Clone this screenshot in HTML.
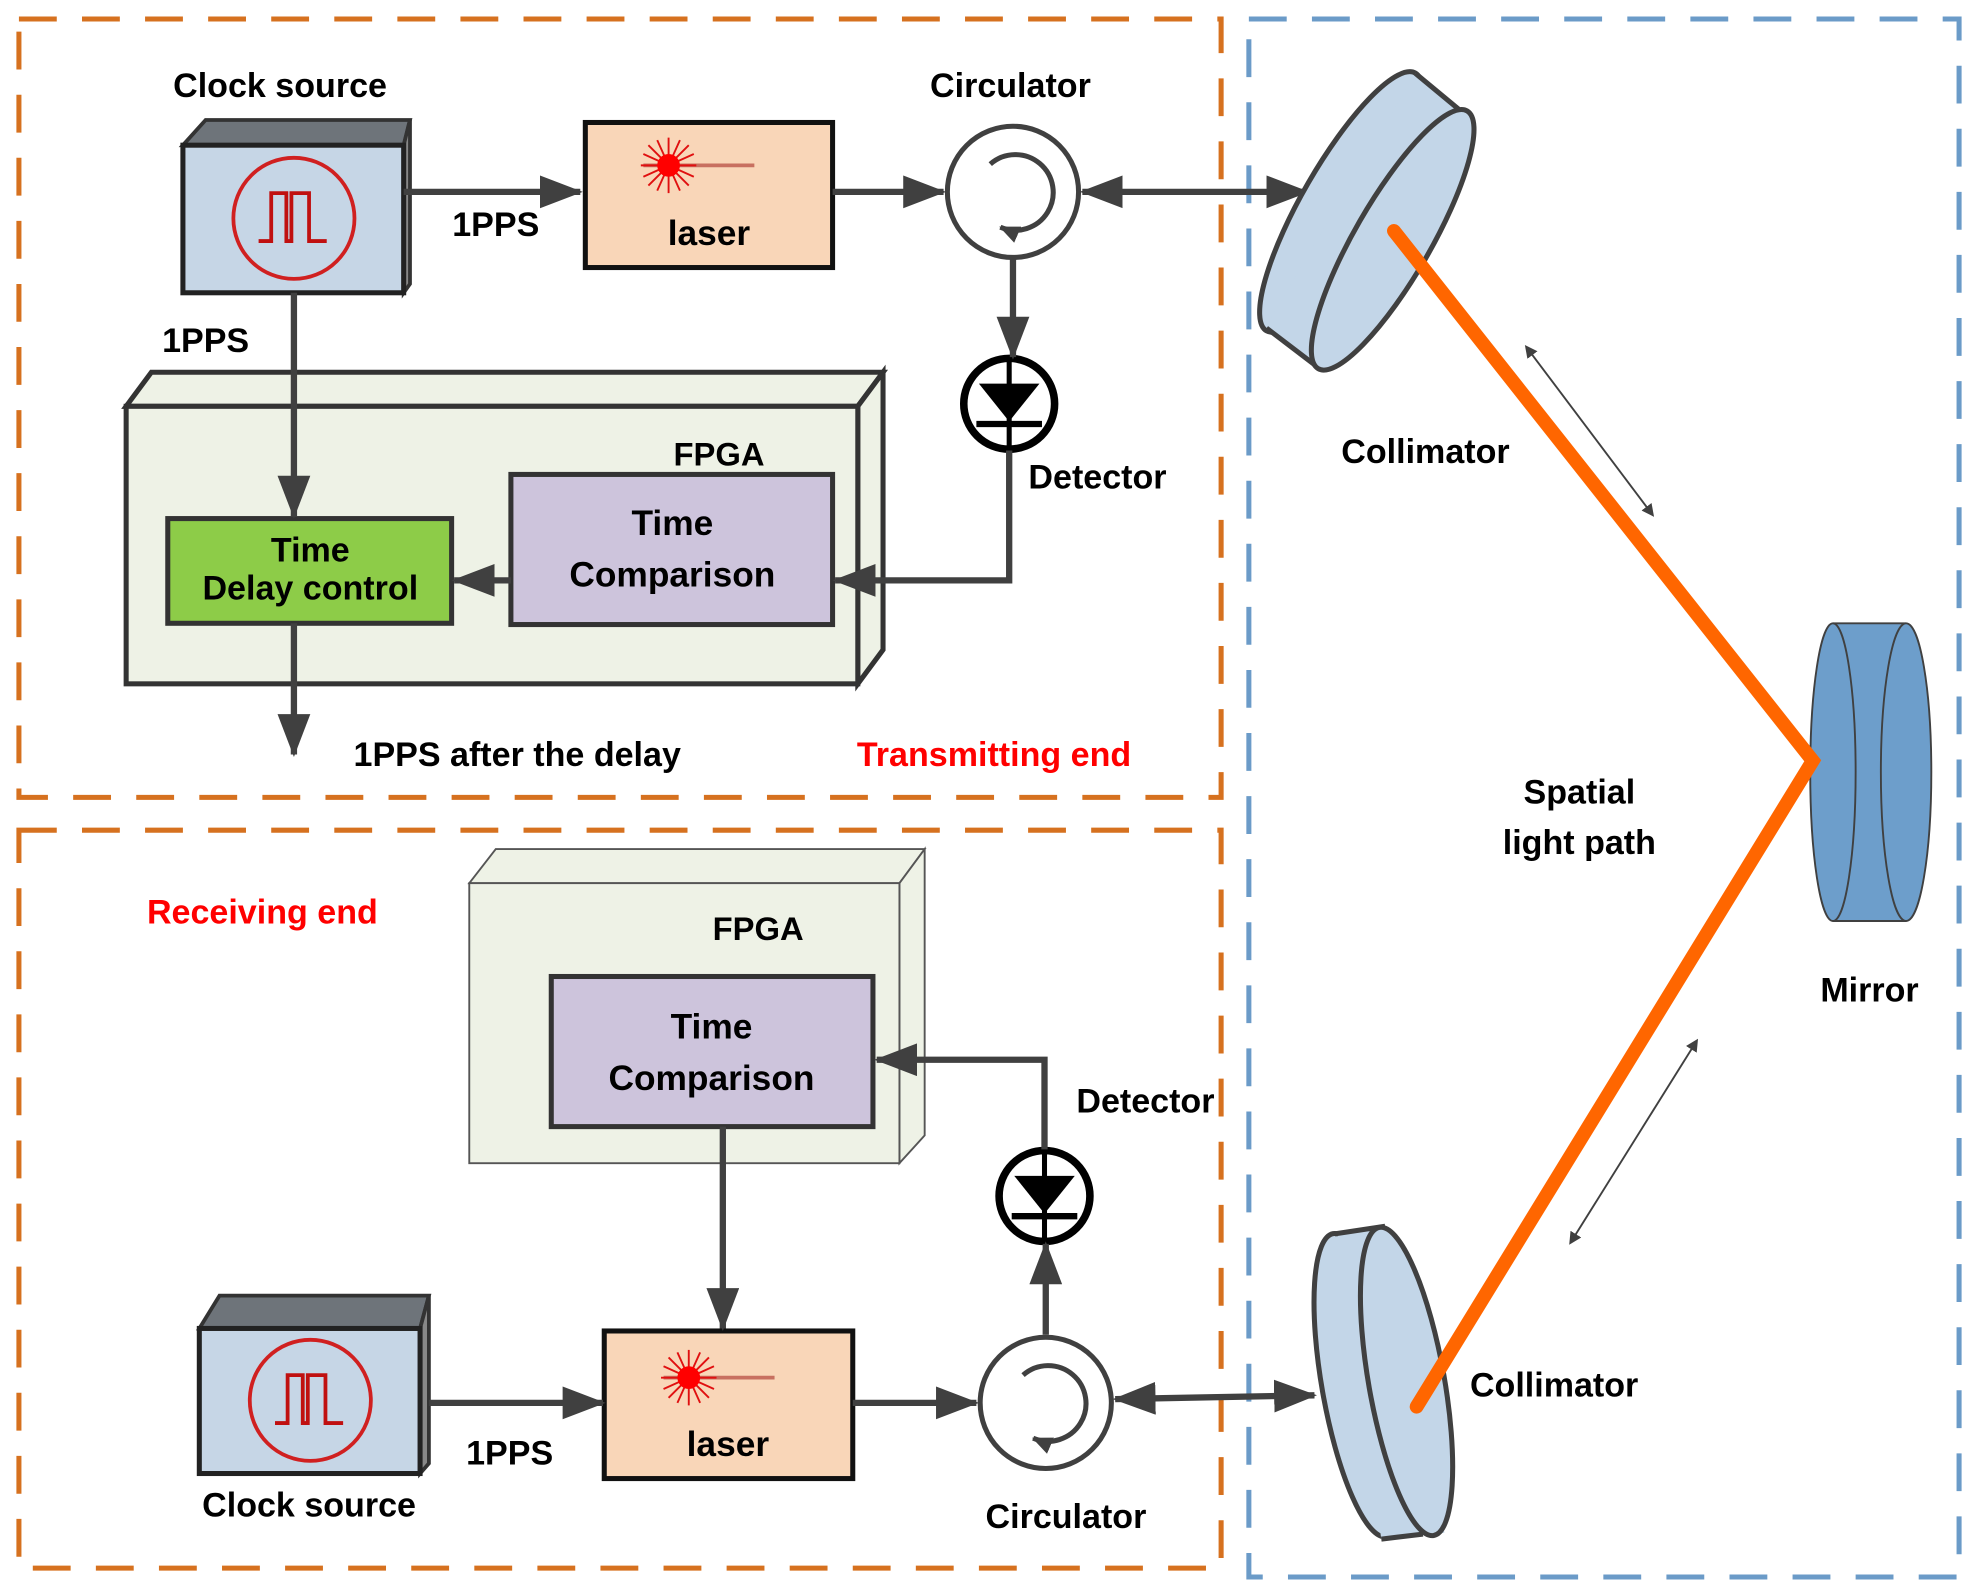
<!DOCTYPE html>
<html><head><meta charset="utf-8"><style>
html,body{margin:0;padding:0;background:#fff}
svg{display:block}
text{font-family:"Liberation Sans",sans-serif;font-weight:bold;fill:#000;text-anchor:middle}
</style></head><body>
<svg width="1978" height="1596" viewBox="0 0 1568 1265" xmlns="http://www.w3.org/2000/svg">
<defs>
<marker id="ah" markerWidth="10" markerHeight="10" refX="8" refY="5" orient="auto-start-reverse" markerUnits="userSpaceOnUse" viewBox="0 0 10 10">
<path d="M0,0 L10,5 L0,10 z" fill="#404040"/></marker>
<marker id="big" markerWidth="34" markerHeight="26" refX="32" refY="13" orient="auto-start-reverse" markerUnits="userSpaceOnUse" viewBox="0 0 34 26">
<path d="M0,0 L34,13 L0,26 z" fill="#404040"/></marker>
<marker id="sm" markerWidth="16" markerHeight="14" refX="15" refY="7" orient="auto-start-reverse" markerUnits="userSpaceOnUse" viewBox="0 0 16 14">
<path d="M0,0 L16,7 L0,14 z" fill="#404040"/></marker>
<g id="clock">
<circle r="48" fill="none" stroke="#d02020" stroke-width="3"/>
<path d="M-28,18 H-18 V-20 H-6 V18 H-2 V-20 H12 V18 H26" fill="none" stroke="#c01010" stroke-width="3"/>
</g>
<g id="star">
<line x1="-20" y1="0" x2="68" y2="0" stroke="#c87060" stroke-width="3"/>
<g stroke="#e01010" stroke-width="1.5">
<line x1="-22" y1="0" x2="22" y2="0"/><line x1="0" y1="-22" x2="0" y2="22"/>
<line x1="-16" y1="-16" x2="16" y2="16"/><line x1="-16" y1="16" x2="16" y2="-16"/>
<line x1="-20" y1="-9" x2="20" y2="9"/><line x1="-20" y1="9" x2="20" y2="-9"/>
<line x1="-9" y1="-20" x2="9" y2="20"/><line x1="9" y1="-20" x2="-9" y2="20"/>
</g>
<circle r="9" fill="#ff0000"/>
</g>
<g id="circ">
<circle r="52" fill="#fff" stroke="#404040" stroke-width="4"/>
<path d="M-18,-22 A30,30 0 1 1 -10,28" fill="none" stroke="#404040" stroke-width="4" marker-end="url(#sm)"/>
</g>
<g id="det">
<circle r="36" fill="#fff" stroke="#000" stroke-width="6"/>
<path d="M-24,-16 H24 L0,14 z" fill="#000"/>
<line x1="-26" y1="16" x2="26" y2="16" stroke="#000" stroke-width="5"/>
<line x1="0" y1="-36" x2="0" y2="36" stroke="#000" stroke-width="4"/>
</g>
</defs>

<rect x="15" y="15" width="953" height="617" fill="none" stroke="#d6711f" stroke-width="4" stroke-dasharray="30,20"/>
<rect x="15" y="658" width="953" height="585" fill="none" stroke="#d6711f" stroke-width="4" stroke-dasharray="30,20"/>
<rect x="990" y="15" width="563" height="1235" fill="none" stroke="#6b9bc8" stroke-width="4" stroke-dasharray="30,20"/>

<path d="M100,322 L120,295 L700,295 L680,322 z" fill="#eef2e6" stroke="#333" stroke-width="4"/>
<path d="M680,322 L700,295 L700,515 L680,542 z" fill="#eef2e6" stroke="#333" stroke-width="4"/>
<rect x="100" y="322" width="580" height="220" fill="#eef2e6" stroke="#333" stroke-width="4"/>
<text x="570" y="369" font-size="26">FPGA</text>
<rect x="405" y="376" width="255" height="119" fill="#cdc4dc" stroke="#333" stroke-width="4"/>
<text x="533" y="424" font-size="28">Time</text>
<text x="533" y="465" font-size="28">Comparison</text>
<rect x="133" y="411" width="225" height="83" fill="#8dcc48" stroke="#333" stroke-width="4"/>
<text x="246" y="445" font-size="27">Time</text>
<text x="246" y="475" font-size="27">Delay control</text>

<path d="M145,115 L163,95 L325,95 L320,115 z" fill="#6e747a" stroke="#333" stroke-width="3"/>
<path d="M320,115 L325,95 L325,225 L320,232 z" fill="#888" stroke="#333" stroke-width="3"/>
<rect x="145" y="115" width="175" height="117" fill="#c6d6e6" stroke="#222" stroke-width="4"/>
<use href="#clock" x="233" y="173"/>
<text x="222" y="77" font-size="27">Clock source</text>

<rect x="464" y="97" width="196" height="115" fill="#f9d6b8" stroke="#111" stroke-width="4"/>
<use href="#star" x="530" y="131"/>
<text x="562" y="194" font-size="28">laser</text>

<use href="#circ" x="803" y="152"/>
<text x="801" y="77" font-size="27">Circulator</text>
<use href="#det" x="800" y="320"/>
<text x="870" y="387" font-size="27">Detector</text>

<g stroke="#404040" stroke-width="5" fill="none">
<line x1="320" y1="152" x2="460" y2="152" marker-end="url(#big)"/>
<line x1="660" y1="152" x2="748" y2="152" marker-end="url(#big)"/>
<line x1="858" y1="152" x2="1036" y2="152" marker-start="url(#big)" marker-end="url(#big)"/>
<line x1="803" y1="205" x2="803" y2="283" marker-end="url(#big)"/>
<polyline points="800,357 800,460 662,460" marker-end="url(#big)"/>
<line x1="405" y1="460" x2="360" y2="460" marker-end="url(#big)"/>
<line x1="233" y1="232" x2="233" y2="409" marker-end="url(#big)"/>
<line x1="233" y1="494" x2="233" y2="598" marker-end="url(#big)"/>
</g>
<text x="393" y="187" font-size="27">1PPS</text>
<text x="163" y="279" font-size="27">1PPS</text>
<text x="410" y="607" font-size="27">1PPS after the delay</text>
<text x="788" y="607" font-size="27" style="fill:#ff0000">Transmitting end</text>

<path d="M372,700 L393,673 L733,673 L713,700 z" fill="#eef2e6" stroke="#555" stroke-width="1.5"/>
<path d="M713,700 L733,673 L733,900 L713,922 z" fill="#eef2e6" stroke="#555" stroke-width="1.5"/>
<rect x="372" y="700" width="341" height="222" fill="#eef2e6" stroke="#555" stroke-width="1.5"/>
<text x="601" y="745" font-size="26">FPGA</text>
<rect x="437" y="774" width="255" height="119" fill="#cdc4dc" stroke="#333" stroke-width="4"/>
<text x="564" y="823" font-size="28">Time</text>
<text x="564" y="864" font-size="28">Comparison</text>
<text x="208" y="732" font-size="27" style="fill:#ff0000">Receiving end</text>

<path d="M158,1053 L174,1027 L340,1027 L333,1053 z" fill="#6e747a" stroke="#333" stroke-width="3"/>
<path d="M333,1053 L340,1027 L340,1160 L333,1168 z" fill="#888" stroke="#333" stroke-width="3"/>
<rect x="158" y="1053" width="175" height="115" fill="#c6d6e6" stroke="#222" stroke-width="4"/>
<use href="#clock" x="246" y="1110"/>
<text x="245" y="1202" font-size="27">Clock source</text>

<rect x="479" y="1055" width="197" height="117" fill="#f9d6b8" stroke="#111" stroke-width="4"/>
<use href="#star" x="546" y="1092"/>
<text x="577" y="1154" font-size="28">laser</text>

<use href="#circ" x="829" y="1112"/>
<text x="845" y="1211" font-size="27">Circulator</text>
<use href="#det" x="828" y="948"/>
<text x="908" y="882" font-size="27">Detector</text>

<g stroke="#404040" stroke-width="5" fill="none">
<line x1="340" y1="1112" x2="478" y2="1112" marker-end="url(#big)"/>
<line x1="676" y1="1112" x2="774" y2="1112" marker-end="url(#big)"/>
<line x1="884" y1="1109" x2="1042" y2="1106" marker-start="url(#big)" marker-end="url(#big)"/>
<line x1="829" y1="1058" x2="829" y2="986" marker-end="url(#big)"/>
<polyline points="828,911 828,840 695,840" marker-end="url(#big)"/>
<line x1="573" y1="893" x2="573" y2="1053" marker-end="url(#big)"/>
</g>
<text x="404" y="1161" font-size="27">1PPS</text>

<!-- top collimator -->
<g stroke="#404040" stroke-width="4" fill="#c3d6e8">
<ellipse cx="1063" cy="160" rx="30" ry="118" transform="rotate(30 1063 160)"/>
<path d="M1122,58 L1165,92 L1046,292 L1004,258 z" stroke="none"/>
<path d="M1122,58 L1163,92" fill="none"/>
<path d="M1004,260 L1046,292" fill="none"/>
<ellipse cx="1104" cy="190" rx="30" ry="118" transform="rotate(30 1104 190)"/>
</g>
<text x="1130" y="367" font-size="27">Collimator</text>

<!-- bottom collimator -->
<g stroke="#404040" stroke-width="4" fill="#c3d6e8">
<ellipse cx="1078" cy="1098" rx="30" ry="122" transform="rotate(-10 1078 1098)"/>
<path d="M1060,978 L1098,972 L1145,1215 L1095,1220 z" stroke="none"/>
<path d="M1058,978 L1098,972" fill="none"/>
<path d="M1095,1220 L1128,1216" fill="none"/>
<ellipse cx="1115" cy="1095" rx="30" ry="124" transform="rotate(-10 1115 1095)"/>
</g>
<text x="1232" y="1107" font-size="27">Collimator</text>

<g stroke="#404040" stroke-width="1.5">
<rect x="1453" y="494" width="58" height="236" fill="#6d9ecb" stroke="none"/>
<ellipse cx="1453" cy="612" rx="18" ry="118" fill="#6d9ecb"/>
<line x1="1453" y1="494" x2="1511" y2="494"/>
<line x1="1453" y1="730" x2="1511" y2="730"/>
<ellipse cx="1511" cy="612" rx="20" ry="118" fill="#6d9ecb"/>
</g>
<text x="1482" y="794" font-size="27">Mirror</text>

<polyline points="1105,183 1437,603 1123,1115" fill="none" stroke="#ff6600" stroke-width="11" stroke-linecap="round" stroke-linejoin="miter"/>
<g stroke="#404040" stroke-width="1.5">
<line x1="1210" y1="275" x2="1310" y2="408" marker-start="url(#ah)" marker-end="url(#ah)"/>
<line x1="1345" y1="825" x2="1245" y2="985" marker-start="url(#ah)" marker-end="url(#ah)"/>
</g>
<text x="1252" y="637" font-size="27">Spatial</text>
<text x="1252" y="677" font-size="27">light path</text>
</svg>
</body></html>
